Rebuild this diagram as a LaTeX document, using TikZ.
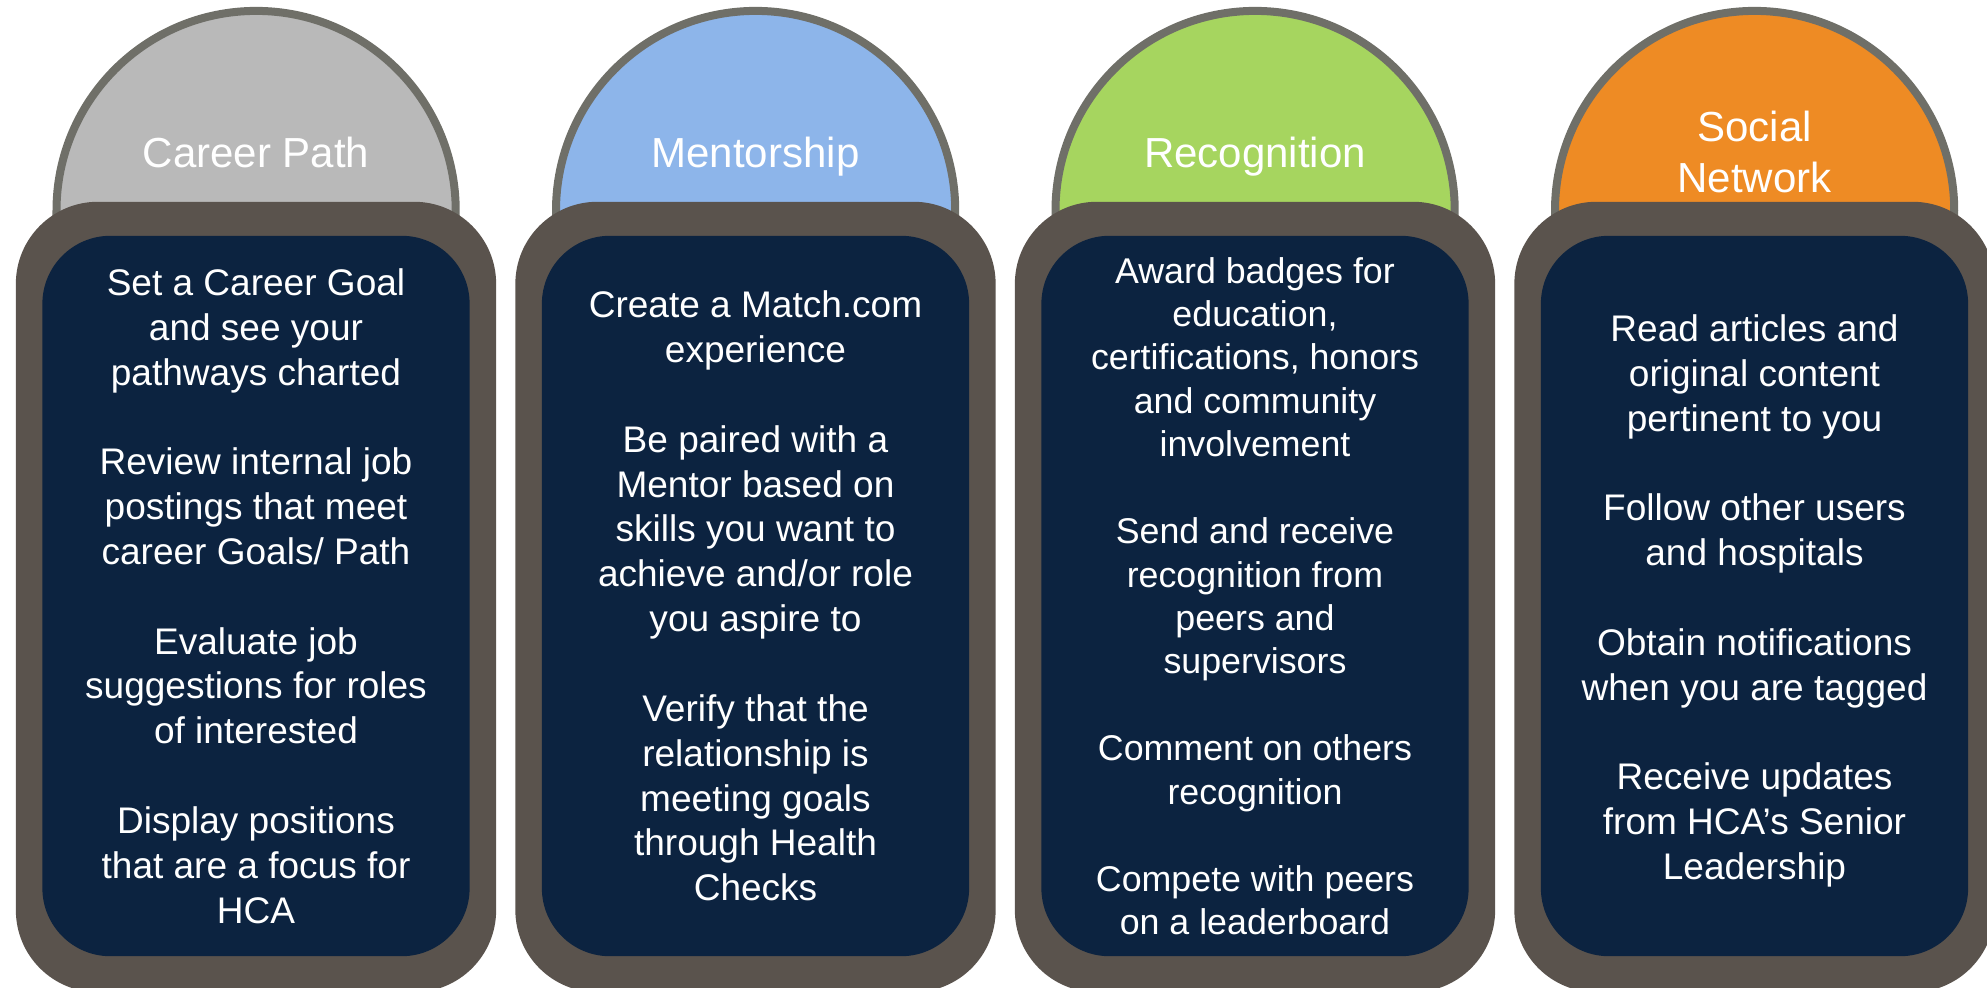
\documentclass[tikz,border=0pt]{standalone}
\usepackage{fontspec}
\setmainfont{Liberation Sans}
\definecolor{domeline}{HTML}{6F6F68}
\definecolor{frameclr}{HTML}{5A534D}
\definecolor{navy}{HTML}{0C2340}
\definecolor{pathgray}{HTML}{B9B9B9}
\definecolor{mentorblue}{HTML}{8DB5EA}
\definecolor{recoggreen}{HTML}{A6D55F}
\definecolor{socialorange}{HTML}{EE8B24}

\begin{document}
\begin{tikzpicture}[
        x=0.01cm,y=-0.01cm,
        dome/.style={draw=domeline,line width=0.08cm},
        frame/.style={fill=frameclr,rounded corners=0.82cm,
        	minimum width=4.8cm,minimum height=7.9cm,inner sep=0pt},
        panel/.style={fill=navy,rounded corners=0.68cm,
        	minimum width=4.27cm,minimum height=7.2cm,inner sep=0pt},
        title/.style={text=white,align=center,font={\fontsize{11.95}{14.7}\selectfont}},
        items/.style={text=white,align=center,font={\fontsize{10.53}{12.75}\selectfont}},
        tightitems/.style={items,font={\fontsize{10.17}{12.35}\selectfont}}
    ]

    \useasboundingbox (0,0) rectangle (1987,987);
    \clip (0,0) rectangle (1987,987);

    %domes
    \filldraw[dome,fill=pathgray](56.5,260)--(56.5,210.5)
        arc[start angle=180,end angle=0,radius=1.995cm]--(455.5,260)--cycle;
    \filldraw[dome,fill=mentorblue](556,260)--(556,210.5)
        arc[start angle=180,end angle=0,radius=1.995cm]--(955,260)--cycle;
    \filldraw[dome,fill=recoggreen](1055.5,260)--(1055.5,210.5)
        arc[start angle=180,end angle=0,radius=1.995cm]--(1454.5,260)--cycle;
    \filldraw[dome,fill=socialorange](1555,260)--(1555,210.5)
        arc[start angle=180,end angle=0,radius=1.995cm]--(1954,260)--cycle;

    \node[title,anchor=base] (career) at (256,167) {Career Path};
    \node[title,anchor=base] (mentor) at (755.5,167) {Mentorship};
    \node[title,anchor=base] (recog) at (1255,167) {Recognition};
    \node[title] (social) at (1754.5,152) {Social\\Network};

    %frames and panels
    \node[frame] (careerframe) at (256,597) {};
    \node[frame] (mentorframe) at (755.5,597) {};
    \node[frame] (recogframe) at (1255,597) {};
    \node[frame] (socialframe) at (1754.5,597) {};

    \node[panel] (careerpanel) at (256,596) {};
    \node[panel] (mentorpanel) at (755.5,596) {};
    \node[panel] (recogpanel) at (1255,596) {};
    \node[panel] (socialpanel) at (1754.5,596) {};

    %texts
    \node[items] (careertxt) at (careerpanel.center) {Set a Career Goal\\and see your\\pathways charted\\[12.75pt]
        Review internal job\\postings that meet\\career Goals/ Path\\[12.75pt]
        Evaluate job\\suggestions for roles\\of interested\\[12.75pt]
        Display positions\\that are a focus for\\HCA};
    \node[items] (mentortxt) at (mentorpanel.center) {Create a Match.com\\experience\\[12.75pt]
        Be paired with a\\Mentor based on\\skills you want to\\achieve and/or role\\you aspire to\\[12.75pt]
        Verify that the\\relationship is\\meeting goals\\through Health\\Checks};
    \node[tightitems] (recogtxt) at (recogpanel.center) {Award badges for\\education,\\certifications, honors\\and community\\involvement\\[12.35pt]
        Send and receive\\recognition from\\peers and\\supervisors\\[12.35pt]
        Comment on others\\recognition\\[12.35pt]
        Compete with peers\\on a leaderboard};
    \node[items] (socialtxt) at ([yshift=-0.05cm]socialpanel.center) {Read articles and\\original content\\pertinent to you\\[12.75pt]
        Follow other users\\and hospitals\\[12.75pt]
        Obtain notifications\\when you are tagged\\[12.75pt]
        Receive updates\\from HCA’s Senior\\Leadership};
        \end{tikzpicture}
\end{document}
